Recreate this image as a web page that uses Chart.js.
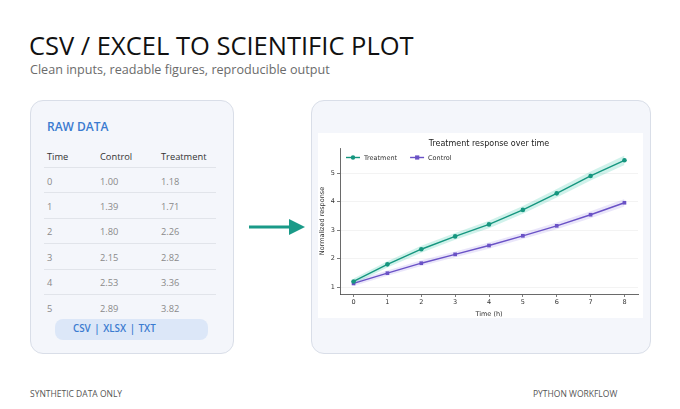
<!DOCTYPE html>
<html><head><meta charset="utf-8">
<script src="https://cdn.jsdelivr.net/npm/chart.js@4"></script>
<style>
html,body{margin:0;padding:0;background:#fff;}
body{width:680px;height:409px;position:relative;overflow:hidden;font-family:"Open Sans","Noto Sans",sans-serif;}
.title{position:absolute;left:29px;top:28px;font-size:25.5px;font-weight:500;color:#111;white-space:nowrap;}
.sub{position:absolute;left:30px;top:61px;font-size:12.6px;color:#6b6b6b;white-space:nowrap;}
.card{position:absolute;background:#f4f6fb;border:1px solid #d9dee8;border-radius:13px;box-sizing:border-box;}
.raw{position:absolute;left:47px;top:118px;font-size:12px;font-weight:600;color:#3b7bd0;}
.cell{position:absolute;font-size:9.3px;white-space:nowrap;}
.hd{color:#333;}
.rw{color:#8a8a8a;}
.hr{position:absolute;left:44px;width:172px;height:1px;background:#e1e4ea;}
.pill{position:absolute;left:55px;top:319px;width:153px;height:21px;border-radius:8px;background:#dce7f8;}
.pilltxt{position:absolute;left:73px;top:322px;font-size:9.8px;font-weight:600;color:#3b7bd0;white-space:nowrap;word-spacing:1px;}
.foot{position:absolute;top:388px;font-size:8.5px;color:#555;white-space:nowrap;}
#plotbg{position:absolute;left:318px;top:133px;width:325px;height:185px;background:#fff;}
#cw{position:absolute;left:318px;top:133px;width:325px;height:185px;}
</style></head>
<body>
<div class="title">CSV / EXCEL TO SCIENTIFIC PLOT</div>
<div class="sub">Clean inputs, readable figures, reproducible output</div>

<div class="card" style="left:30px;top:100px;width:204px;height:254px;"></div>
<div class="raw">RAW DATA</div>
<div id="table"></div>
<div class="pill"></div>
<div class="pilltxt">CSV | XLSX | TXT</div>

<svg style="position:absolute;left:245px;top:215px" width="65" height="25">
<line x1="4" y1="12" x2="46" y2="12" stroke="#1a9a88" stroke-width="3"/>
<polygon points="44,4 60,12 44,20" fill="#1a9a88"/>
</svg>

<div class="card" style="left:311px;top:100px;width:340px;height:254px;"></div>
<div id="plotbg"></div>
<div id="cw"><canvas id="c" width="325" height="185"></canvas></div>

<div class="foot" style="left:30px;">SYNTHETIC DATA ONLY</div>
<div class="foot" style="left:533px;">PYTHON WORKFLOW</div>

<script>
// table data
const tableTime = ["0","1","2","3","4","5"];
const tableControl = ["1.00","1.39","1.80","2.15","2.53","2.89"];
const tableTreatment = ["1.18","1.71","2.26","2.82","3.36","3.82"];

// chart data
const times = [0,1,2,3,4,5,6,7,8];
const treatment = [1.20,1.80,2.33,2.78,3.20,3.71,4.29,4.90,5.45];
const treatmentErr = [0.10,0.11,0.12,0.12,0.13,0.14,0.15,0.16,0.17];
const control = [1.13,1.49,1.84,2.15,2.46,2.80,3.15,3.54,3.96];
const controlErr = [0.09,0.09,0.10,0.10,0.11,0.11,0.12,0.12,0.13];
const yTicks = [1,2,3,4,5];

// build table
(function(){
  const t = document.getElementById('table');
  const cols = [47,100,161];
  const heads = ["Time","Control","Treatment"];
  let h = '';
  heads.forEach((s,i)=>{h += `<div class="cell hd" style="left:${cols[i]}px;top:149.5px">${s}</div>`;});
  for(let r=0;r<tableTime.length;r++){
    const y = 174.5 + r*25.4;
    h += `<div class="hr" style="top:${Math.round(y-7.5)}px"></div>`;
    [tableTime[r],tableControl[r],tableTreatment[r]].forEach((s,i)=>{
      h += `<div class="cell rw" style="left:${cols[i]}px;top:${y}px">${s}</div>`;
    });
  }
  t.innerHTML = h;
})();

const TEAL = '#15967f';
const PURPLE = '#6a52c6';
const pts = (arr)=>times.map((x,i)=>({x:x,y:arr[i]}));
const ptsOff = (arr,err,s)=>times.map((x,i)=>({x:x,y:arr[i]+s*err[i]}));

const FONT = "DejaVu Sans";

const overlay = {
  id:'overlay',
  afterDraw(chart){
    const ctx = chart.ctx, a = chart.chartArea;
    ctx.save();
    ctx.fillStyle = '#222';
    ctx.font = `8px "${FONT}"`;
    ctx.textAlign = 'center';
    ctx.textBaseline = 'middle';
    ctx.fillText('Treatment response over time', (a.left+a.right)/2, 10.5);
    // legend
    const items = [{label:'Treatment',color:TEAL,shape:'circle'},{label:'Control',color:PURPLE,shape:'square'}];
    let x = a.left + 6; const y = a.top + 9.5;
    ctx.font = `6.5px "${FONT}"`;
    ctx.textAlign = 'left';
    items.forEach(it=>{
      ctx.strokeStyle = it.color; ctx.lineWidth = 1.4;
      ctx.beginPath(); ctx.moveTo(x,y); ctx.lineTo(x+14,y); ctx.stroke();
      ctx.fillStyle = it.color;
      if(it.shape==='circle'){ctx.beginPath();ctx.arc(x+7,y,2.2,0,Math.PI*2);ctx.fill();}
      else {ctx.fillRect(x+5,y-2.1,4.2,4.2);}
      ctx.fillStyle = '#333';
      ctx.fillText(it.label, x+18, y+0.5);
      x += 18 + ctx.measureText(it.label).width + 13;
    });
    ctx.restore();
  }
};

new Chart(document.getElementById('c'), {
  type:'line',
  data:{datasets:[
    {data:ptsOff(treatment,treatmentErr,1),borderWidth:0,pointRadius:0,fill:'+1',backgroundColor:'rgba(40,195,165,0.22)',order:5},
    {data:ptsOff(treatment,treatmentErr,-1),borderWidth:0,pointRadius:0,fill:false,order:5},
    {data:ptsOff(control,controlErr,1),borderWidth:0,pointRadius:0,fill:'+1',backgroundColor:'rgba(140,115,225,0.18)',order:5},
    {data:ptsOff(control,controlErr,-1),borderWidth:0,pointRadius:0,fill:false,order:5},
    {label:'Treatment',data:pts(treatment),borderColor:TEAL,backgroundColor:TEAL,borderWidth:1.4,pointRadius:2.3,pointStyle:'circle',pointBorderWidth:0,fill:false,order:1},
    {label:'Control',data:pts(control),borderColor:PURPLE,backgroundColor:PURPLE,borderWidth:1.4,pointRadius:2.6,pointStyle:'rect',pointBorderWidth:0,fill:false,order:1}
  ]},
  options:{
    responsive:false,animation:false,
    layout:{padding:{left:0,right:5,top:15,bottom:0}},
    plugins:{legend:{display:false},tooltip:{enabled:false},title:{display:false}},
    scales:{
      x:{type:'linear',min:-0.4,max:8.4,
        afterBuildTicks(s){s.ticks = times.map(v=>({value:v}));},
        afterFit(s){s.height = 24;},
        ticks:{color:'#333',font:{family:FONT,size:6.5},padding:1,maxRotation:0},
        grid:{drawOnChartArea:false,tickLength:3,tickColor:'#444',tickWidth:0.7},
        border:{display:true,color:'#444',width:0.8},
        title:{display:true,text:'Time (h)',color:'#333',font:{family:FONT,size:6.5},padding:{top:1,bottom:0}}
      },
      y:{type:'linear',min:0.76,max:5.88,
        afterBuildTicks(s){s.ticks = yTicks.map(v=>({value:v}));},
        afterFit(s){s.width = 22;},
        ticks:{color:'#333',font:{family:FONT,size:6.5},padding:2},
        grid:{drawOnChartArea:true,color:'#eeeeee',lineWidth:0.7,tickLength:3,tickColor:'#444',tickWidth:0.7},
        border:{display:true,color:'#444',width:0.8},
        title:{display:true,text:'Normalized response',color:'#333',font:{family:FONT,size:6.5},padding:{top:0,bottom:1}}
      }
    }
  },
  plugins:[overlay]
});
</script>
</body></html>
